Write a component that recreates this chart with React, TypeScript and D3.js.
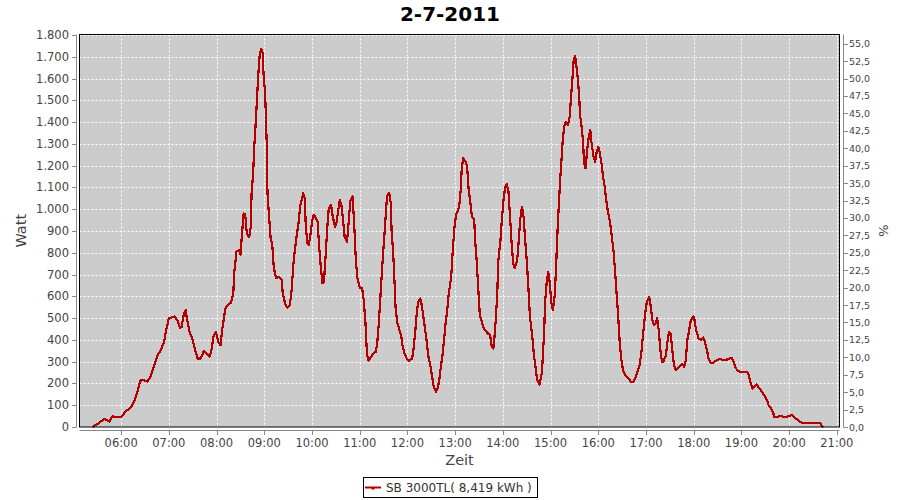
import * as d3 from "d3";

// readings of the inverter, 2-7-2011
const times = [
  "05:24", "05:32", "05:39", "05:45", "05:49", "05:55", "06:00", "06:06", "06:12", "06:16",
  "06:20", "06:24", "06:29", "06:33", "06:37", "06:41", "06:46", "06:50", "06:54", "06:57",
  "07:00", "07:07", "07:11", "07:14", "07:16", "07:19", "07:21", "07:23", "07:26", "07:30",
  "07:33", "07:36", "07:40", "07:44", "07:49", "07:51", "07:54", "07:56", "07:59", "08:02",
  "08:05", "08:07", "08:11", "08:14", "08:18", "08:21", "08:22", "08:25", "08:28", "08:30",
  "08:32", "08:34", "08:36", "08:38", "08:41", "08:43", "08:44", "08:46", "08:47", "08:49",
  "08:51", "08:52", "08:54", "08:56", "08:58", "08:59", "09:01", "09:02", "09:03", "09:04",
  "09:06", "09:08", "09:10", "09:12", "09:15", "09:18", "09:22", "09:23", "09:26", "09:29",
  "09:32", "09:34", "09:37", "09:40", "09:43", "09:45", "09:49", "09:51", "09:52", "09:54",
  "09:56", "09:58", "10:00", "10:02", "10:04", "10:07", "10:09", "10:11", "10:13", "10:15",
  "10:17", "10:19", "10:21", "10:24", "10:26", "10:29", "10:31", "10:33", "10:35", "10:37",
  "10:39", "10:41", "10:44", "10:46", "10:48", "10:51", "10:53", "10:55", "10:57", "11:00",
  "11:03", "11:05", "11:07", "11:08", "11:09", "11:11", "11:15", "11:18", "11:20", "11:22",
  "11:24", "11:26", "11:28", "11:30", "11:32", "11:34", "11:35", "11:37", "11:39", "11:40",
  "11:42", "11:44", "11:45", "11:47", "11:50", "11:52", "11:54", "11:56", "11:59", "12:02",
  "12:06", "12:08", "12:10", "12:12", "12:14", "12:16", "12:18", "12:20", "12:22", "12:24",
  "12:26", "12:29", "12:31", "12:33", "12:36", "12:38", "12:40", "12:42", "12:44", "12:46",
  "12:48", "12:50", "12:52", "12:55", "12:57", "12:59", "13:01", "13:03", "13:05", "13:07",
  "13:08", "13:10", "13:13", "13:15", "13:17", "13:19", "13:21", "13:24", "13:25", "13:27",
  "13:29", "13:31", "13:34", "13:36", "13:39", "13:42", "13:44", "13:46", "13:48", "13:49",
  "13:51", "13:53", "13:54", "13:57", "13:59", "14:01", "14:03", "14:05", "14:07", "14:09",
  "14:11", "14:13", "14:15", "14:18", "14:20", "14:22", "14:24", "14:26", "14:28", "14:30",
  "14:32", "14:34", "14:37", "14:39", "14:41", "14:43", "14:46", "14:49", "14:50", "14:52",
  "14:53", "14:55", "14:57", "14:59", "15:01", "15:03", "15:05", "15:07", "15:08", "15:10",
  "15:12", "15:14", "15:15", "15:17", "15:19", "15:22", "15:24", "15:26", "15:28", "15:29",
  "15:31", "15:32", "15:34", "15:36", "15:37", "15:39", "15:41", "15:42", "15:44", "15:46",
  "15:48", "15:50", "15:51", "15:54", "15:56", "15:58", "16:00", "16:02", "16:04", "16:06",
  "16:08", "16:10", "16:12", "16:15", "16:17", "16:19", "16:21", "16:23", "16:25", "16:27",
  "16:29", "16:31", "16:34", "16:38", "16:41", "16:44", "16:47", "16:50", "16:52", "16:54",
  "16:56", "16:59", "17:01", "17:04", "17:06", "17:08", "17:10", "17:12", "17:14", "17:16",
  "17:18", "17:20", "17:22", "17:25", "17:27", "17:29", "17:31", "17:33", "17:35", "17:37",
  "17:40", "17:43", "17:45", "17:48", "17:50", "17:52", "17:54", "17:56", "17:58", "18:00",
  "18:01", "18:03", "18:06", "18:09", "18:12", "18:14", "18:17", "18:19", "18:22", "18:25",
  "18:29", "18:33", "18:37", "18:42", "18:46", "18:48", "18:50", "18:52", "18:55", "18:58",
  "19:03", "19:07", "19:09", "19:11", "19:14", "19:16", "19:19", "19:21", "19:24", "19:27",
  "19:30", "19:32", "19:34", "19:37", "19:40", "19:41", "19:45", "19:49", "19:53", "19:57",
  "20:01", "20:04", "20:06", "20:10", "20:14", "20:18", "20:26", "20:35", "20:39", "20:41",
  "20:43",
];

const watts = [
  0, 18, 37, 25, 50, 44, 46, 73, 89, 116,
  155, 213, 215, 208, 231, 277, 330, 353, 392, 453,
  499, 507, 488, 456, 459, 522, 537, 491, 438, 400,
  354, 315, 315, 349, 330, 322, 361, 415, 438, 392,
  376, 445, 545, 560, 571, 614, 700, 805, 813, 790,
  889, 981, 975, 889, 871, 920, 1073, 1165, 1264, 1387,
  1517, 1593, 1700, 1736, 1716, 1624, 1532, 1425, 1303, 1073,
  966, 866, 836, 729, 683, 690, 675, 621, 568, 548,
  560, 614, 767, 859, 935, 1012, 1073, 1050, 935, 843,
  836, 882, 943, 973, 966, 943, 828, 736, 660, 667,
  782, 905, 1004, 1019, 966, 920, 943, 996, 1042, 1019,
  950, 874, 851, 935, 1035, 1058, 935, 775, 683, 640,
  637, 583, 491, 415, 338, 303, 326, 341, 343, 384,
  476, 598, 721, 828, 935, 1045, 1065, 1076, 1027, 905,
  805, 644, 552, 483, 445, 422, 369, 341, 315, 303,
  315, 369, 445, 537, 580, 590, 560, 507, 453, 400,
  330, 277, 231, 185, 162, 177, 216, 277, 330, 400,
  476, 537, 614, 690, 813, 912, 973, 989, 1012, 1088,
  1172, 1234, 1218, 1197, 1088, 1035, 969, 950, 859, 767,
  637, 514, 476, 453, 438, 427, 420, 369, 361, 392,
  491, 614, 752, 859, 966, 1050, 1104, 1116, 1081, 966,
  843, 752, 729, 767, 859, 958, 1012, 966, 859, 767,
  644, 507, 415, 330, 277, 216, 195, 247, 308, 445,
  568, 660, 713, 660, 568, 537, 598, 736, 843, 996,
  1134, 1241, 1303, 1379, 1402, 1387, 1425, 1532, 1624, 1685,
  1704, 1670, 1609, 1517, 1433, 1379, 1303, 1211, 1188, 1272,
  1333, 1364, 1318, 1241, 1218, 1264, 1287, 1256, 1211, 1149,
  1104, 1042, 989, 935, 874, 813, 721, 614, 507, 384,
  308, 262, 239, 224, 208, 208, 231, 262, 285, 338,
  415, 522, 575, 598, 552, 491, 468, 476, 499, 445,
  354, 300, 300, 330, 392, 438, 430, 354, 292, 262,
  270, 280, 290, 277, 308, 400, 438, 483, 503, 507,
  491, 445, 407, 400, 411, 392, 346, 308, 292, 296,
  308, 312, 308, 310, 317, 315, 300, 277, 259, 254,
  254, 254, 239, 208, 177, 185, 196, 185, 170, 155,
  139, 124, 101, 86, 66, 47, 47, 50, 47, 47,
  52, 55, 44, 35, 24, 17, 17, 17, 17, 7,
  0,
];

const title = "2-7-2011";
const seriesName = "SB 3000TL( 8,419 kWh )";
const nominalWatt = 3200; // right axis: percent of this
const wattTicks = d3.range(0, 1801, 100);
const percentTicks = d3.range(0, 55.01, 2.5);

const W = 900;
const H = 500;
const plot = { left: 79.5, right: 839.5, top: 34.5, bottom: 427 };
const red = "#b40000";
const tickColor = "#444";
const font = "'DejaVu Sans', sans-serif";

const parse = d3.timeParse("%H:%M");
const parseSec = d3.timeParse("%H:%M:%S");
const de = d3.formatLocale({ decimal: ",", thousands: ".", grouping: [3], currency: ["", ""] });
const fmtWatt = de.format(",");
const fmtPct = de.format(".1f");
const fmtTime = d3.timeFormat("%H:%M");

const App = () => {
  const x = d3
    .scaleTime()
    .domain([parseSec("05:07:36")!, parseSec("21:03:18")!])
    .range([plot.left, plot.right]);
  const y = d3.scaleLinear().domain([0, 1800]).range([427, 35]);
  const y2 = d3.scaleLinear().domain([0, (1800 / nominalWatt) * 100]).range([427, 35]);

  const hours = d3.timeHour.range(parse("06:00")!, parse("21:01")!);
  const points = times.map((t, i) => [x(parse(t)!), y(watts[i])] as [number, number]);
  const path = d3.line()(points) ?? "";
  const crisp = (v: number) => Math.round(v) + 0.5;

  return (
    <svg
      width={W}
      height={H}
      style={{ position: "absolute", left: 0, top: 0, background: "#fff" }}
      fontFamily={font}
    >
      <text x={450} y={21} textAnchor="middle" fontSize={20} fontWeight="bold" fill="#000">
        {title}
      </text>

      {/* plot background and grid */}
      <rect
        x={plot.left}
        y={plot.top}
        width={plot.right - plot.left}
        height={plot.bottom - plot.top}
        fill="#cccccc"
      />
      {wattTicks.map((t) => (
        <line
          key={"gy" + t}
          x1={plot.left}
          x2={plot.right}
          y1={crisp(y(t))}
          y2={crisp(y(t))}
          stroke="#fff"
          strokeDasharray="2,2"
        />
      ))}
      {hours.map((h) => (
        <line
          key={"gx" + h.getTime()}
          x1={crisp(x(h))}
          x2={crisp(x(h))}
          y1={plot.top}
          y2={plot.bottom}
          stroke="#fff"
          strokeDasharray="2,2"
        />
      ))}

      <path
        d={path}
        fill="none"
        stroke={red}
        strokeWidth={2.2}
        strokeLinejoin="round"
        shapeRendering="crispEdges"
      />

      <rect
        x={plot.left}
        y={plot.top}
        width={plot.right - plot.left}
        height={plot.bottom - plot.top}
        fill="none"
        stroke="#000"
      />

      {/* left axis */}
      <line x1={76.5} x2={76.5} y1={plot.top} y2={plot.bottom} stroke="#888" />
      {wattTicks.map((t) => (
        <g key={"ly" + t}>
          <line x1={72} x2={76.5} y1={crisp(y(t))} y2={crisp(y(t))} stroke="#888" />
          <text x={69} y={y(t) + 4} textAnchor="end" fontSize={11.5} fill={tickColor}>
            {fmtWatt(t)}
          </text>
        </g>
      ))}
      <text
        transform={`translate(26,${(plot.top + plot.bottom) / 2}) rotate(-90)`}
        textAnchor="middle"
        fontSize={14.5}
        fill={tickColor}
      >
        Watt
      </text>

      {/* right axis */}
      <line x1={843.5} x2={843.5} y1={plot.top} y2={plot.bottom} stroke="#888" />
      {percentTicks.map((t) => (
        <g key={"ry" + t}>
          <line x1={843.5} x2={848} y1={crisp(y2(t))} y2={crisp(y2(t))} stroke="#888" />
          <text x={849} y={y2(t) + 3.5} fontSize={9.5} fill={tickColor}>
            {fmtPct(t)}
          </text>
        </g>
      ))}
      <text
        transform={`translate(879,${(plot.top + plot.bottom) / 2}) rotate(90)`}
        textAnchor="middle"
        fontSize={13}
        fill={tickColor}
      >
        %
      </text>

      {/* bottom axis */}
      <line x1={plot.left} x2={plot.right} y1={430.5} y2={430.5} stroke="#888" />
      {hours.map((h) => (
        <g key={"bx" + h.getTime()}>
          <line x1={crisp(x(h))} x2={crisp(x(h))} y1={430.5} y2={435} stroke="#888" />
          <text x={x(h)} y={447} textAnchor="middle" fontSize={11.5} fill={tickColor}>
            {fmtTime(h)}
          </text>
        </g>
      ))}
      <text
        x={(plot.left + plot.right) / 2}
        y={465}
        textAnchor="middle"
        fontSize={14.5}
        fill={tickColor}
      >
        Zeit
      </text>

      {/* legend */}
      <rect x={363.5} y={477.5} width={174} height={20} fill="#fff" stroke="#000" />
      <line x1={365} x2={381} y1={487.5} y2={487.5} stroke={red} strokeWidth={2} />
      <rect x={371.5} y={487} width={3} height={2.5} fill={red} />
      <text x={386} y={492} fontSize={12} fill="#333">
        {seriesName}
      </text>
    </svg>
  );
};

export default App;
